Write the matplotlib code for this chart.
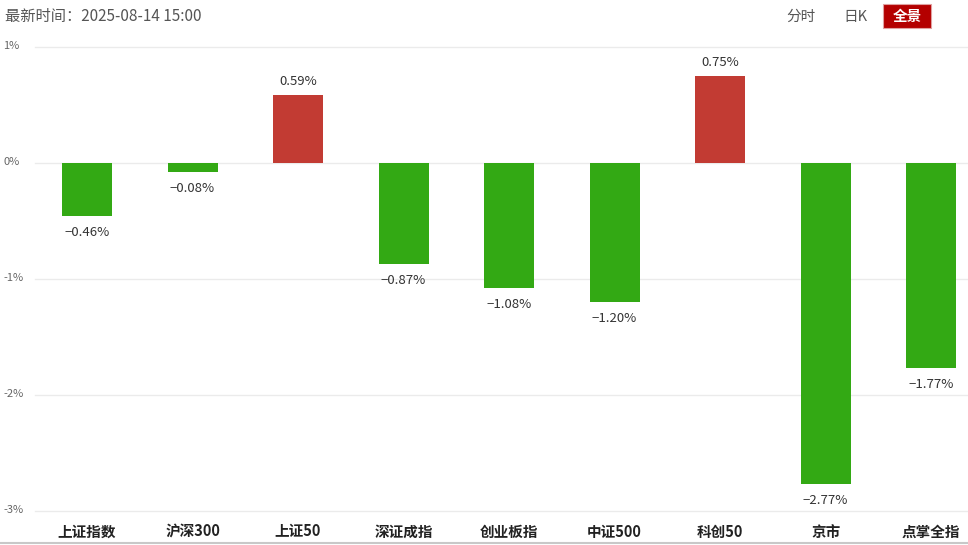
import matplotlib
matplotlib.use("Agg")
import matplotlib.pyplot as plt
from matplotlib.lines import Line2D
from matplotlib.patches import Rectangle

plt.rcParams['font.family'] = ['Noto Sans CJK SC', 'DejaVu Sans']

# data
names = ['上证指数', '沪深300', '上证50', '深证成指', '创业板指', '中证500', '科创50', '京市', '点掌全指']
changes = [-0.46, -0.08, 0.59, -0.87, -1.08, -1.20, 0.75, -2.77, -1.77]
yticks = [1, 0, -1, -2, -3]
ytick_labels = ['1%', '0%', '-1%', '-2%', '-3%']
title = '最新时间：2025-08-14 15:00'
buttons = ['分时', '日K', '全景']

RED = '#c23b33'
GREEN = '#33a914'

W, H = 968, 545
fig = plt.figure(figsize=(W / 100, H / 100), dpi=100)

# axes placed so gridlines land at 1% -> y=47px, -3% -> y=511px
ax = fig.add_axes([35 / W, (H - 511) / H, (W - 35) / W, (511 - 47) / H])
ax.set_ylim(-3, 1)
ax.set_xlim(-0.493, 8.35)

x = list(range(len(names)))
colors = [RED if v > 0 else GREEN for v in changes]
ax.bar(x, changes, width=0.474, color=colors, zorder=3)

for xi, v in zip(x, changes):
    sign = '−' if v < 0 else ''
    txt = f'{sign}{abs(v):.2f}%'
    if v >= 0:
        ax.annotate(txt, (xi, v), xytext=(0, 5), textcoords='offset points',
                    ha='center', va='bottom', fontsize=9.5, color='#333333')
    else:
        ax.annotate(txt, (xi, v), xytext=(0, -7), textcoords='offset points',
                    ha='center', va='top', fontsize=9.5, color='#333333')

for t in yticks:
    ax.axhline(t, color='#ebebeb', lw=1, zorder=1, clip_on=False)

for s in ax.spines.values():
    s.set_visible(False)
ax.set_yticks([])
ax.set_xticks(x)
ax.set_xticklabels(names, fontsize=10.5, fontweight='bold', color='#222222')
ax.tick_params(axis='x', length=0, pad=9)

# y labels drawn at the left edge of the figure
for t, lab in zip(yticks, ytick_labels):
    ypx = 47 + (1 - t) * 116
    fig.text(3 / W, (H - ypx + 1) / H, lab, fontsize=8, color='#666666',
             ha='left', va='center')

# bottom rule
fig.add_artist(Line2D([0, 1], [(H - 542.5) / H] * 2, color='#c8c8c8', lw=1.5))

# header
fig.text(5 / W, (H - 17) / H, title, fontsize=11, color='#555555', ha='left', va='center')
fig.text(801 / W, (H - 17) / H, buttons[0], fontsize=10.5, color='#555555', ha='center', va='center')
fig.text(855 / W, (H - 17) / H, buttons[1], fontsize=10.5, color='#555555', ha='center', va='center')
fig.add_artist(Rectangle((883 / W, (H - 28) / H), 48 / W, 24 / H, transform=fig.transFigure,
                         facecolor='#b40000', edgecolor='#e0a0a0', lw=0.8))
fig.text(907 / W, (H - 16) / H, buttons[2], fontsize=10.5, color='white', ha='center', va='center',
         fontweight='bold')

fig.savefig('out.png', dpi=100, facecolor='white')
